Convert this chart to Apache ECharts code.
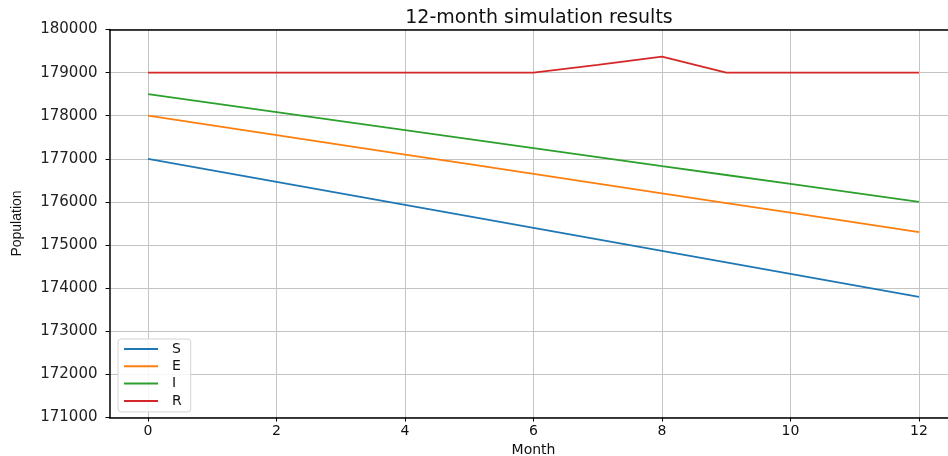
<!DOCTYPE html>
<html>
<head>
<meta charset="utf-8">
<script src="https://cdn.jsdelivr.net/npm/echarts@6/dist/echarts.min.js"></script>
<style>
html,body{margin:0;padding:0;background:#fff;}
#c{width:948px;height:456px;}
</style>
</head>
<body>
<div id="c"></div>
<script>
const months = [0,1,2,3,4,5,6,7,8,9,10,11,12];
const xTicks = [0,2,4,6,8,10,12];
const S = [177000,176733,176467,176200,175933,175667,175400,175133,174867,174600,174333,174067,173800];
const E = [178000,177775,177550,177325,177100,176875,176650,176425,176200,175975,175750,175525,175300];
const I = [178500,178292,178083,177875,177667,177458,177250,177042,176833,176625,176417,176208,176000];
const R = [179000,179000,179000,179000,179000,179000,179000,179180,179370,179000,179000,179000,179000];
const seriesNames = ['S','E','I','R'];
const colors = ['#1f77b4','#ff7f0e','#2ca02c','#d62728'];
const values = [S,E,I,R];

const chart = echarts.init(document.getElementById('c'), null, {renderer:'canvas'});
const font = 'DejaVu Sans';
const gridColor = '#c4c4c4';
chart.setOption({
  animation: false,
  backgroundColor: '#fff',
  title: {
    text: '12-month simulation results',
    left: 534, top: 4, textAlign: 'center',
    textStyle: {fontFamily: font, fontSize: 19, fontWeight: 'normal', color: '#111'}
  },
  grid: {left: 109.5, top: 29.5, right: -9.5, bottom: 38.5, containLabel: false, outerBoundsMode: 'none'},
  legend: {
    orient: 'vertical', left: 118, top: 339,
    data: seriesNames,
    icon: 'rect', itemWidth: 34, itemHeight: 2, itemGap: 3.3,
    padding: [3, 9, 4, 6],
    backgroundColor: 'rgba(255,255,255,0.85)',
    borderColor: '#d4d4d4', borderWidth: 1, borderRadius: 3,
    textStyle: {fontFamily: font, fontSize: 14, lineHeight: 14, color: '#111', padding: [0,0,0,9]}
  },
  xAxis: [{
    type: 'value', min: -0.6, max: 12.6,
    name: 'Month', nameLocation: 'middle', nameGap: 21,
    nameTextStyle: {fontFamily: font, fontSize: 14, color: '#111'},
    axisLine: {show: true, onZero: false, lineStyle: {color: '#000', width: 1.5}},
    axisTick: {show: true, inside: false, length: 4, customValues: xTicks, lineStyle: {color: '#000', width: 1}},
    axisLabel: {customValues: xTicks, margin: 7, fontFamily: font, fontSize: 14, color: '#111'},
    splitLine: {show: true, lineStyle: {color: gridColor, width: 1}}
  },{
    type: 'value', position: 'top', min: -0.6, max: 12.6,
    axisLine: {show: true, lineStyle: {color: '#000', width: 1.5}},
    axisTick: {show: false}, axisLabel: {show: false}, splitLine: {show: false}
  }],
  yAxis: {
    type: 'value', min: 171000, max: 180000, interval: 1000,
    name: 'Population', nameLocation: 'middle', nameGap: 85, nameRotate: 90,
    nameTextStyle: {fontFamily: "'Liberation Sans Narrow','Liberation Sans'", fontSize: 14, color: '#111'},
    axisLine: {show: true, onZero: false, lineStyle: {color: '#000', width: 1.5}},
    axisTick: {show: true, inside: false, length: 4, lineStyle: {color: '#000', width: 1}},
    axisLabel: {margin: 12, fontFamily: font, fontSize: 15, color: '#222', formatter: v => String(v)},
    splitLine: {show: true, lineStyle: {color: gridColor, width: 1}}
  },
  series: seriesNames.map((n, i) => ({
    name: n, type: 'line', xAxisIndex: 0,
    data: months.map((m, j) => [m, values[i][j]]),
    symbol: 'none', color: colors[i],
    lineStyle: {width: 1.8, color: colors[i]}
  }))
});
</script>
</body>
</html>
